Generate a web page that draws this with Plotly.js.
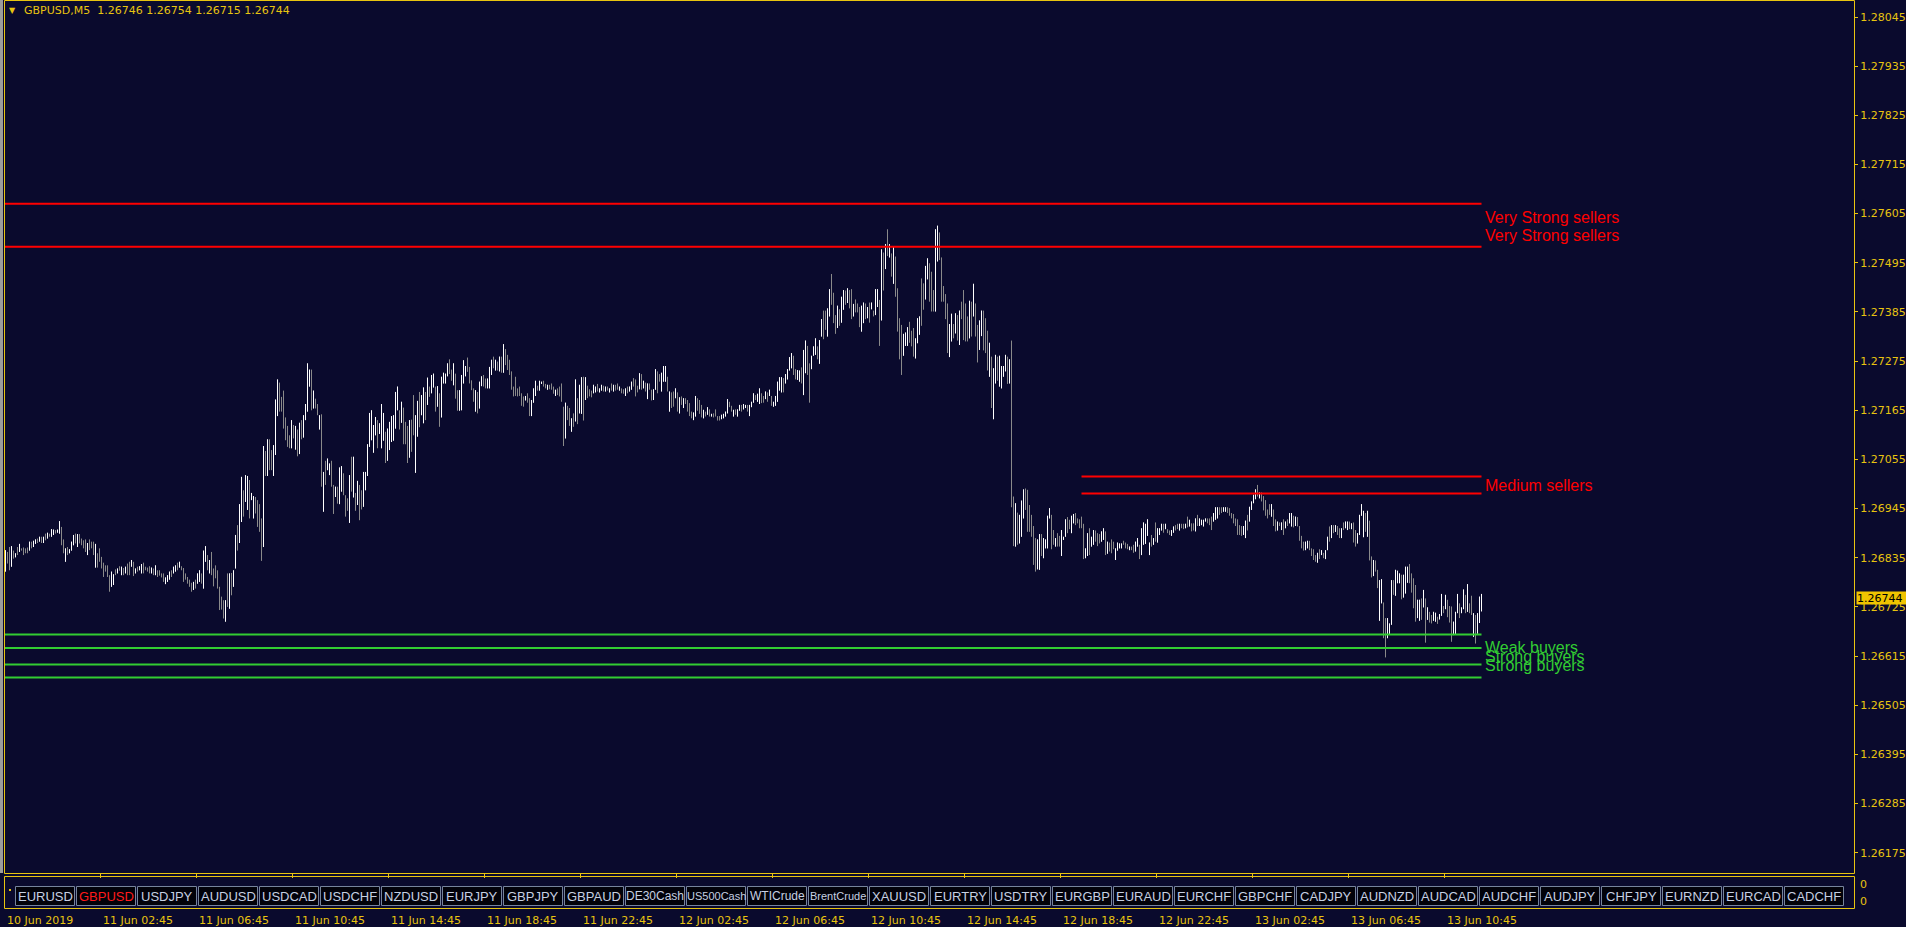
<!DOCTYPE html>
<html><head><meta charset="utf-8">
<script src="https://cdn.plot.ly/plotly-3.0.1.min.js"></script>
<style>html,body{margin:0;padding:0;background:#0a0a2d;overflow:hidden}#chart{width:1906px;height:927px}</style>
</head><body><div id="chart"></div>
<script>
// prices stored as points (0.00001) above BASE
const BASE = 1.26, PT = 0.00001;
const high = [
852,848,859,861,851,845,859,866,856,858,856,858,871,871,873,876,878,882,882,882,
889,891,889,899,898,897,898,917,904,876,856,859,854,871,886,889,888,888,878,874,
876,868,876,871,871,866,845,856,837,824,818,818,796,804,798,809,811,816,815,812,
815,822,826,830,826,811,815,816,821,824,815,813,816,813,811,818,807,807,800,800,
791,796,804,807,815,818,824,826,816,812,800,792,786,779,781,786,800,807,800,851,
861,841,830,848,811,818,807,770,748,740,740,800,800,801,807,886,908,955,1016,986,
1020,1018,1009,980,973,971,964,955,923,1085,1074,1100,1100,1076,1087,1189,1234,1227,1195,1209,
1149,1130,1109,1143,1132,1130,1122,1137,1143,1154,1179,1270,1256,1256,1209,1191,1179,1154,1156,1027,
1052,1057,1046,1052,998,994,994,1037,1040,1024,975,968,1020,1061,1061,980,1007,998,986,1027,
1027,1089,1159,1165,1132,1150,1143,1136,1179,1159,1117,1124,1139,1152,1154,1206,1218,1165,1184,1171,
1139,1130,1143,1144,1199,1154,1186,1206,1199,1216,1206,1238,1218,1244,1247,1218,1219,1203,1240,1249,
1247,1270,1279,1256,1270,1247,1210,1210,1244,1277,1264,1283,1262,1232,1214,1210,1206,1229,1241,1244,
1236,1236,1262,1278,1285,1278,1274,1285,1285,1313,1302,1289,1278,1252,1218,1240,1214,1218,1203,1196,
1197,1203,1192,1188,1214,1231,1220,1231,1229,1231,1224,1222,1222,1225,1218,1211,1214,1218,1225,1173,
1182,1175,1170,1147,1158,1234,1192,1222,1239,1240,1239,1220,1212,1209,1222,1218,1224,1214,1222,1220,
1218,1218,1214,1225,1222,1222,1225,1218,1214,1212,1214,1218,1218,1229,1237,1234,1220,1248,1246,1231,
1227,1225,1225,1211,1212,1257,1252,1246,1249,1264,1264,1240,1207,1205,1207,1214,1205,1194,1196,1192,
1192,1188,1181,1162,1160,1197,1192,1188,1177,1166,1162,1172,1167,1157,1158,1167,1152,1152,1155,1157,
1162,1190,1184,1175,1166,1167,1167,1177,1177,1179,1177,1177,1177,1184,1203,1199,1202,1214,1203,1197,
1207,1205,1211,1197,1184,1197,1229,1239,1239,1237,1246,1257,1284,1293,1287,1257,1255,1254,1261,1300,
1321,1309,1270,1287,1308,1326,1308,1322,1369,1388,1388,1393,1436,1470,1428,1378,1399,1391,1419,1434,
1433,1438,1434,1436,1403,1413,1404,1396,1399,1406,1404,1396,1406,1406,1388,1436,1436,1412,1525,1518,
1537,1570,1537,1516,1530,1509,1438,1371,1356,1336,1339,1351,1363,1343,1349,1326,1371,1375,1460,1449,
1488,1505,1494,1475,1434,1570,1578,1563,1507,1443,1425,1404,1358,1381,1358,1382,1378,1388,1408,1434,
1404,1375,1410,1408,1448,1404,1356,1366,1388,1388,1371,1343,1316,1285,1259,1289,1285,1287,1264,1264,
1289,1285,1279,1321,972,957,936,931,963,988,990,987,953,931,906,879,876,888,888,879,
876,929,946,931,897,879,890,884,897,882,921,926,920,929,933,935,923,921,927,911,
856,890,901,882,897,896,890,888,894,901,894,871,869,876,871,856,869,867,867,873,
869,866,860,860,864,871,879,864,901,914,911,921,869,886,879,914,901,901,911,911,
911,899,896,897,905,908,911,911,911,911,911,927,920,912,912,923,931,923,920,920,
923,923,923,927,935,948,948,948,948,948,948,948,946,935,933,923,921,908,906,906,
918,931,949,961,976,988,998,981,981,973,964,943,955,955,943,921,916,914,914,921,
916,921,935,935,929,927,926,906,884,871,871,873,873,856,854,841,846,854,852,846,
852,882,905,908,908,908,906,901,901,914,916,916,916,912,914,897,890,931,955,940,
935,940,918,838,830,829,808,785,787,735,700,700,688,785,785,808,806,800,797,797,
815,815,821,800,789,774,741,741,744,763,744,724,714,707,714,712,703,709,754,727,
752,741,727,726,692,714,754,733,724,764,752,776,733,750,711,707,711,748,754];
const low = [
804,822,807,815,833,836,841,848,851,841,845,845,851,856,859,866,868,871,868,868,
874,878,882,882,886,889,891,889,863,845,826,841,845,851,863,867,859,867,863,856,
848,841,852,856,841,813,813,826,811,792,804,792,759,770,774,796,800,806,796,796,
800,796,796,815,794,800,804,807,800,800,807,804,800,800,796,796,792,795,791,781,
776,781,786,792,800,804,807,813,807,781,786,777,770,759,763,766,777,781,777,766,
826,807,800,796,771,789,766,718,719,699,692,725,721,751,770,811,851,868,915,927,
960,942,923,964,923,934,904,893,828,859,1018,1018,1031,1031,1018,1065,1152,1162,1162,1124,
1098,1083,1080,1080,1102,1077,1062,1067,1100,1104,1143,1162,1218,1165,1169,1169,1154,1122,994,938,
998,1031,1020,994,933,971,956,955,983,975,927,940,913,983,970,940,953,919,943,949,
986,1018,1083,1098,1070,1109,1080,1112,1080,1097,1047,1052,1076,1094,1097,1124,1165,1122,1137,1089,
1089,1047,1059,1072,1109,1025,1106,1127,1154,1136,1143,1177,1195,1203,1216,1162,1173,1128,1149,1225,
1225,1241,1246,1231,1221,1191,1164,1164,1165,1225,1241,1251,1225,1210,1184,1162,1158,1169,1219,1218,
1214,1214,1214,1244,1259,1254,1254,1252,1249,1249,1266,1255,1244,1211,1196,1197,1196,1197,1175,1173,
1187,1182,1152,1152,1182,1197,1209,1209,1224,1218,1214,1211,1212,1211,1202,1197,1199,1196,1184,1085,
1102,1143,1130,1117,1128,1140,1134,1158,1157,1142,1188,1192,1196,1194,1203,1205,1207,1205,1209,1207,
1207,1209,1205,1209,1207,1209,1211,1209,1203,1202,1197,1203,1207,1211,1218,1196,1205,1212,1211,1214,
1207,1190,1211,1187,1188,1211,1203,1229,1207,1229,1229,1207,1162,1170,1173,1192,1162,1158,1177,1170,
1179,1162,1152,1147,1143,1151,1164,1157,1149,1147,1151,1155,1151,1151,1149,1151,1142,1142,1145,1147,
1151,1158,1172,1162,1151,1155,1151,1164,1162,1167,1170,1162,1152,1172,1182,1188,1184,1179,1181,1182,
1190,1184,1197,1175,1173,1175,1184,1209,1205,1205,1225,1234,1254,1259,1244,1234,1233,1229,1225,1199,
1248,1244,1182,1257,1287,1289,1279,1269,1330,1324,1345,1330,1375,1401,1360,1336,1349,1354,1361,1390,
1401,1405,1393,1369,1375,1384,1384,1351,1341,1360,1369,1371,1361,1391,1375,1378,1396,1309,1366,1433,
1481,1510,1507,1464,1448,1419,1341,1279,1244,1287,1309,1309,1316,1308,1285,1281,1315,1334,1354,1390,
1413,1458,1408,1386,1386,1386,1498,1501,1408,1408,1369,1293,1284,1319,1326,1337,1321,1311,1369,1322,
1319,1319,1326,1330,1375,1330,1272,1300,1331,1299,1293,1254,1240,1170,1145,1225,1231,1218,1214,1240,
1252,1224,1225,948,861,860,864,867,882,923,942,893,893,882,819,804,809,808,839,834,
856,856,923,854,864,860,860,860,839,875,882,890,899,890,912,908,912,901,901,832,
834,839,841,860,864,871,861,867,871,875,841,844,849,845,854,830,851,856,856,864,
856,854,852,852,846,849,860,832,841,864,866,884,841,860,864,871,869,886,896,891,
899,890,886,884,891,896,899,896,901,899,901,903,905,894,896,894,906,906,908,905,
916,912,908,897,916,920,923,931,935,938,938,935,929,923,912,906,886,886,884,886,
879,896,916,942,957,966,972,968,961,941,929,923,931,927,906,894,896,906,897,886,
901,906,912,905,903,906,905,873,856,851,852,856,852,839,830,826,824,832,841,834,
832,852,871,879,890,893,886,879,879,897,901,897,899,899,869,860,867,886,929,881,
893,882,829,791,794,804,767,694,733,655,612,655,664,685,752,750,778,778,742,746,
755,779,778,757,722,692,700,694,696,724,645,696,690,688,694,692,687,697,705,711,
720,702,690,647,662,664,711,700,711,720,711,714,711,707,658,643,665,689,715];
// 1 = white (bull) bar, 0 = grey bar
const bullish = [
1,0,0,1,0,1,0,1,0,0,0,0,1,0,1,1,0,1,0,1,0,1,0,1,1,0,1,1,0,0,1,0,1,1,1,0,1,0,0,0,
0,1,0,0,0,1,0,0,0,0,0,0,0,1,1,0,1,0,1,0,1,0,0,1,0,1,0,1,1,0,0,0,0,1,0,1,0,0,0,0,
1,1,1,0,1,1,0,1,0,0,0,0,0,0,1,0,1,1,0,1,1,0,1,0,0,0,0,0,0,0,1,0,1,0,1,1,0,1,1,0,
1,1,0,1,1,0,0,0,0,1,0,1,0,0,1,1,1,0,0,0,0,0,0,1,0,1,0,1,0,1,1,1,1,0,1,0,0,1,0,1,
0,1,1,0,0,1,0,1,1,0,0,0,1,0,1,0,1,0,0,1,1,1,1,1,1,1,0,1,1,1,0,1,1,1,1,1,1,0,1,0,
0,0,1,0,0,1,1,0,1,1,0,1,0,1,1,0,1,0,1,1,1,1,0,0,1,0,0,1,1,1,1,0,0,0,0,1,0,1,1,0,
0,1,1,1,0,1,0,1,0,1,0,0,0,0,0,0,0,0,0,0,1,0,0,1,1,1,0,1,1,0,0,1,0,0,0,1,0,0,0,0,
1,0,0,1,0,1,0,1,1,0,1,0,0,0,1,1,0,1,1,0,1,0,1,0,1,0,0,1,0,0,1,0,1,1,0,0,0,1,0,1,
0,1,0,0,1,1,0,0,1,1,1,0,1,0,0,1,0,1,0,1,0,0,0,0,1,1,0,0,0,1,0,1,0,1,0,0,0,0,1,1,
1,1,0,0,1,0,1,1,0,1,1,0,1,1,1,0,1,1,0,0,1,0,1,0,1,1,1,1,1,0,1,1,1,1,0,0,1,1,0,1,
1,0,0,1,1,1,0,1,1,0,0,1,1,0,0,0,1,0,1,1,0,1,0,0,1,0,0,0,1,1,0,1,0,1,0,1,1,0,1,0,
1,0,1,0,1,0,0,0,0,1,1,1,0,0,0,1,1,1,0,0,1,1,0,0,0,1,1,0,0,0,0,0,1,1,0,1,0,1,0,0,
0,0,1,0,1,0,0,1,1,0,0,0,1,0,1,1,0,1,1,1,1,0,1,0,0,1,0,1,1,1,0,0,0,0,0,0,1,1,0,1,
1,1,1,0,0,1,0,0,1,1,1,0,0,1,1,0,0,0,0,0,1,1,0,1,1,0,0,0,1,1,0,1,0,0,0,1,1,1,1,0,
0,0,1,0,0,1,1,0,1,1,1,1,1,0,1,0,1,1,1,0,1,0,0,1,1,0,0,1,0,0,1,0,1,0,0,1,0,1,1,1,
1,0,0,0,1,1,1,0,0,1,1,0,0,0,0,0,0,0,0,1,1,0,1,1,1,1,0,1,0,0,0,0,0,1,0,0,1,0,1,0,
1,0,1,1,0,1,0,0,0,0,1,1,0,0,0,0,1,0,1,0,1,1,0,1,0,1,0,0,1,0,1,1,0,1,0,0,1,1,1,1,
0,1,0,0,1,0,0,1,1,0,0,1,1,1,0,1,1,1,0,1,1,1,0,0,0,0,1,1,0,1,0,1,0,0,1,1,0,1,1,0,
1,0,0,0,1,1,1,0,1,1,0,1,0,0,1,0,1,1,1];

const symbol = 'GBPUSD,M5';
const lastOHLC = [1.26746, 1.26754, 1.26715, 1.26744];
const timeLabelBars = [0,48,96,144,192,240,288,336,384,432,480,528,576,624,672,720];
const timeLabels = ['10 Jun 2019','11 Jun 02:45','11 Jun 06:45','11 Jun 10:45','11 Jun 14:45','11 Jun 18:45',
  '11 Jun 22:45','12 Jun 02:45','12 Jun 06:45','12 Jun 10:45','12 Jun 14:45','12 Jun 18:45','12 Jun 22:45',
  '13 Jun 02:45','13 Jun 06:45','13 Jun 10:45'];
const priceTicks = [1.28045,1.27935,1.27825,1.27715,1.27605,1.27495,1.27385,1.27275,1.27165,1.27055,
  1.26945,1.26835,1.26725,1.26615,1.26505,1.26395,1.26285,1.26175];
const sellerLevels = [1.27627, 1.27531];
const mediumLevels = [1.27017, 1.26979];
const buyerLevels = [1.26663, 1.26633, 1.26596, 1.26567];
const mediumStartBar = 538;
const zoneLabels = ['Very Strong sellers','Very Strong sellers','Medium sellers','Weak buyers','Strong buyers','Strong buyers'];
const zoneLabelPrices = [1.27597, 1.27557, 1.26996, 1.26635, 1.26613, 1.26593];
const zoneLabelColors = ['#ff0000','#ff0000','#ff0000','#32cd32','#32cd32','#32cd32'];
const buttons = ['EURUSD','GBPUSD','USDJPY','AUDUSD','USDCAD','USDCHF','NZDUSD','EURJPY','GBPJPY','GBPAUD',
  'DE30Cash','US500Cash','WTICrude','BrentCrude','XAUUSD','EURTRY','USDTRY','EURGBP','EURAUD','EURCHF',
  'GBPCHF','CADJPY','AUDNZD','AUDCAD','AUDCHF','AUDJPY','CHFJPY','EURNZD','EURCAD','CADCHF'];
const activeSymbol = 'GBPUSD';

const YEL = '#e8c410';
const BG = '#0a0a2d';
const px = v => (v - 4) / 1850;
const py = v => (908 - v) / 907;
const pr = v => +(BASE + v * PT).toFixed(5);
const lastBar = high.length - 1;

const gx = [], gy = [], wx = [], wy = [];
for (let i = 0; i < high.length; i++) {
  gx.push(i, i, null); gy.push(pr(low[i]), pr(high[i]), null);
  if (bullish[i]) { wx.push(i, i, null); wy.push(pr(low[i]), pr(high[i]), null); }
}
const traces = [
  {type:'scatter', mode:'lines', x:gx, y:gy, line:{color:'#8a8a8a', width:1}, hoverinfo:'skip', connectgaps:false},
  {type:'scatter', mode:'lines', x:wx, y:wy, line:{color:'#ffffff', width:1}, hoverinfo:'skip', connectgaps:false}
];
sellerLevels.forEach(v => traces.push({type:'scatter', mode:'lines', x:[-2, lastBar], y:[v, v], line:{color:'#ff0000', width:2}, hoverinfo:'skip'}));
mediumLevels.forEach(v => traces.push({type:'scatter', mode:'lines', x:[mediumStartBar, lastBar], y:[v, v], line:{color:'#ff0000', width:2}, hoverinfo:'skip'}));
buyerLevels.forEach(v => traces.push({type:'scatter', mode:'lines', x:[-2, lastBar], y:[v, v], line:{color:'#32cd32', width:2}, hoverinfo:'skip'}));

const shapes = [
  {type:'rect', xref:'paper', yref:'paper', x0:px(0), x1:px(3), y0:py(873), y1:py(0), line:{width:0}, fillcolor:'#9c9c9c'},
  {type:'rect', xref:'paper', yref:'paper', x0:px(4.5), x1:px(1854.5), y0:py(873.5), y1:py(0.5), line:{color:YEL, width:1}},
  {type:'rect', xref:'paper', yref:'paper', x0:px(4.5), x1:px(1854.5), y0:py(908.5), y1:py(876.5), line:{color:YEL, width:1}},
  {type:'rect', xref:'paper', yref:'paper', x0:px(9), x1:px(11), y0:py(891), y1:py(889), line:{width:0}, fillcolor:YEL}
];
const annotations = [];
const fmt = v => v.toFixed(5);
annotations.push({xref:'paper', yref:'paper', x:px(12), y:py(11), text:'▼', showarrow:false, xanchor:'center', yanchor:'middle', font:{family:'DejaVu Sans', size:8, color:YEL}});
annotations.push({xref:'paper', yref:'paper', x:px(22), y:py(11), text:symbol + '\u00a0\u00a0' + lastOHLC.map(fmt).join(' '), showarrow:false, xanchor:'left', yanchor:'middle', font:{family:'DejaVu Sans', size:11, color:YEL}});
timeLabels.forEach((t, k) => annotations.push({xref:'x', yref:'paper', x:timeLabelBars[k] - 0.5, y:py(920), text:t, showarrow:false, xanchor:'left', yanchor:'middle', font:{family:'DejaVu Sans', size:11, color:YEL}}));
zoneLabels.forEach((t, k) => annotations.push({xref:'x', yref:'y', x:lastBar + 0.5, y:zoneLabelPrices[k], text:t, showarrow:false, xanchor:'left', yanchor:'middle', font:{family:'Liberation Sans, Arial', size:16, color:zoneLabelColors[k]}}));
annotations.push({xref:'paper', yref:'y', x:px(1856), y:lastOHLC[3], text:fmt(lastOHLC[3]), showarrow:false, xanchor:'left', yanchor:'middle', width:50, height:12, align:'left', bgcolor:'#f0c400', borderpad:0, font:{family:'DejaVu Sans', size:11, color:'#000000'}});
annotations.push({xref:'paper', yref:'paper', x:px(1858), y:py(884), text:'0', showarrow:false, xanchor:'left', yanchor:'middle', font:{family:'DejaVu Sans', size:11, color:YEL}});
annotations.push({xref:'paper', yref:'paper', x:px(1858), y:py(901), text:'0', showarrow:false, xanchor:'left', yanchor:'middle', font:{family:'DejaVu Sans', size:11, color:YEL}});
buttons.forEach((name, k) => {
  const x0 = 15.5 + 61 * k;
  shapes.push({type:'rect', xref:'paper', yref:'paper', x0:px(x0), x1:px(x0 + 59), y0:py(905.5), y1:py(886.5), line:{color:'#76849c', width:1}, fillcolor:'#02020a', layer:'above'});
  const size = name.length > 8 ? 11 : (name.length > 7 ? 12 : 13);
  annotations.push({xref:'paper', yref:'paper', x:px(x0 + 29.5), y:py(896), text:name, showarrow:false, xanchor:'center', yanchor:'middle', font:{family:'Liberation Sans, Arial', size:size, color: name === activeSymbol ? '#ff1a1a' : '#c6d0e2'}});
});

const layout = {
  width:1906, height:927, margin:{l:4, r:52, t:1, b:19, pad:0},
  paper_bgcolor:BG, plot_bgcolor:BG, showlegend:false, hovermode:false,
  xaxis:{range:[-0.75, 924.25], domain:[0,1], anchor:'y2', showgrid:false, zeroline:false, showline:false,
    ticks:'outside', ticklen:4, tickwidth:1, tickcolor:YEL, tickvals:timeLabelBars.slice(1).map(v => v - 0.5), showticklabels:false, fixedrange:true},
  yaxis:{domain:[py(873), 1], range:[1.261296, 1.280808], anchor:'x', side:'right', showgrid:false, zeroline:false, showline:false,
    tickvals:priceTicks, ticktext:priceTicks.map(fmt), ticks:'outside', ticklen:3, tickwidth:1, tickcolor:YEL,
    tickfont:{family:'DejaVu Sans', size:11, color:YEL}, fixedrange:true},
  yaxis2:{domain:[0, py(876)], range:[0,1], anchor:'x', showgrid:false, zeroline:false, showline:false, showticklabels:false, ticks:'', fixedrange:true},
  shapes:shapes, annotations:annotations
};
Plotly.newPlot('chart', traces, layout, {staticPlot:true, displayModeBar:false});
</script></body></html>
